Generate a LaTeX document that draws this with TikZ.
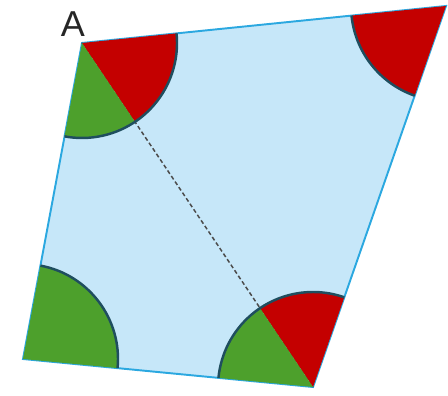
\documentclass[tikz,border=0pt]{standalone}
\usepackage{fontspec}
\setmainfont{Liberation Sans}
\usetikzlibrary{calc}
\definecolor{quadfill}{HTML}{C6E7F9}
\definecolor{edgeblue}{HTML}{2BA8E0}
\definecolor{anglered}{HTML}{C40000}
\definecolor{anglegreen}{HTML}{4DA02C}
\definecolor{arcline}{HTML}{1F4E5F}
\tikzset{
  quadedge/.style={draw=edgeblue, line width=1.1pt},
  diagline/.style={draw=black!70, line width=0.85pt, dash pattern=on 2.3pt off 1.5pt},
  sectorarc/.style={draw=arcline, line width=1.4pt}
}

\begin{document}
\begin{tikzpicture}[x=0.02cm, y=0.02cm]
\useasboundingbox (0,0) rectangle (448,395);
\coordinate (A) at (82,352);
\coordinate (B) at (446,389);
\coordinate (C) at (313,8);
\coordinate (D) at (23,36);
% quadrilateral
\fill[quadfill] (A) -- (B) -- (C) -- (D) -- cycle;
\draw[quadedge] (A) -- (B) -- (C) -- (D) -- cycle;
\draw[diagline] (A) -- (C);
% angles at A
\fill[anglered] (A) -- ++(5.8:95) arc[start angle=5.8, end angle=-56.1, radius=95] -- cycle;
\fill[anglegreen] (A) -- ++(-56.1:95) arc[start angle=-56.1, end angle=-100.6, radius=95] -- cycle;
\draw[sectorarc] (A) ++(5.8:95) arc[start angle=5.8, end angle=-100.6, radius=95];
% angle at B
\fill[anglered] (B) -- ++(185.8:95) arc[start angle=185.8, end angle=250.75, radius=95] -- cycle;
\draw[sectorarc] (B) ++(185.8:95) arc[start angle=185.8, end angle=250.75, radius=95];
% angles at C
\fill[anglered] (C) -- ++(70.75:95) arc[start angle=70.75, end angle=123.9, radius=95] -- cycle;
\fill[anglegreen] (C) -- ++(123.9:95) arc[start angle=123.9, end angle=174.5, radius=95] -- cycle;
\draw[sectorarc] (C) ++(70.75:95) arc[start angle=70.75, end angle=174.5, radius=95];
% angle at D
\fill[anglegreen] (D) -- ++(-5.5:95) arc[start angle=-5.5, end angle=79.4, radius=95] -- cycle;
\draw[sectorarc] (D) ++(-5.5:95) arc[start angle=-5.5, end angle=79.4, radius=95];
\node[font=\fontsize{20.5}{24}\selectfont, text=black!85] (labelA) at (73,371) {A};
\end{tikzpicture}
\end{document}
